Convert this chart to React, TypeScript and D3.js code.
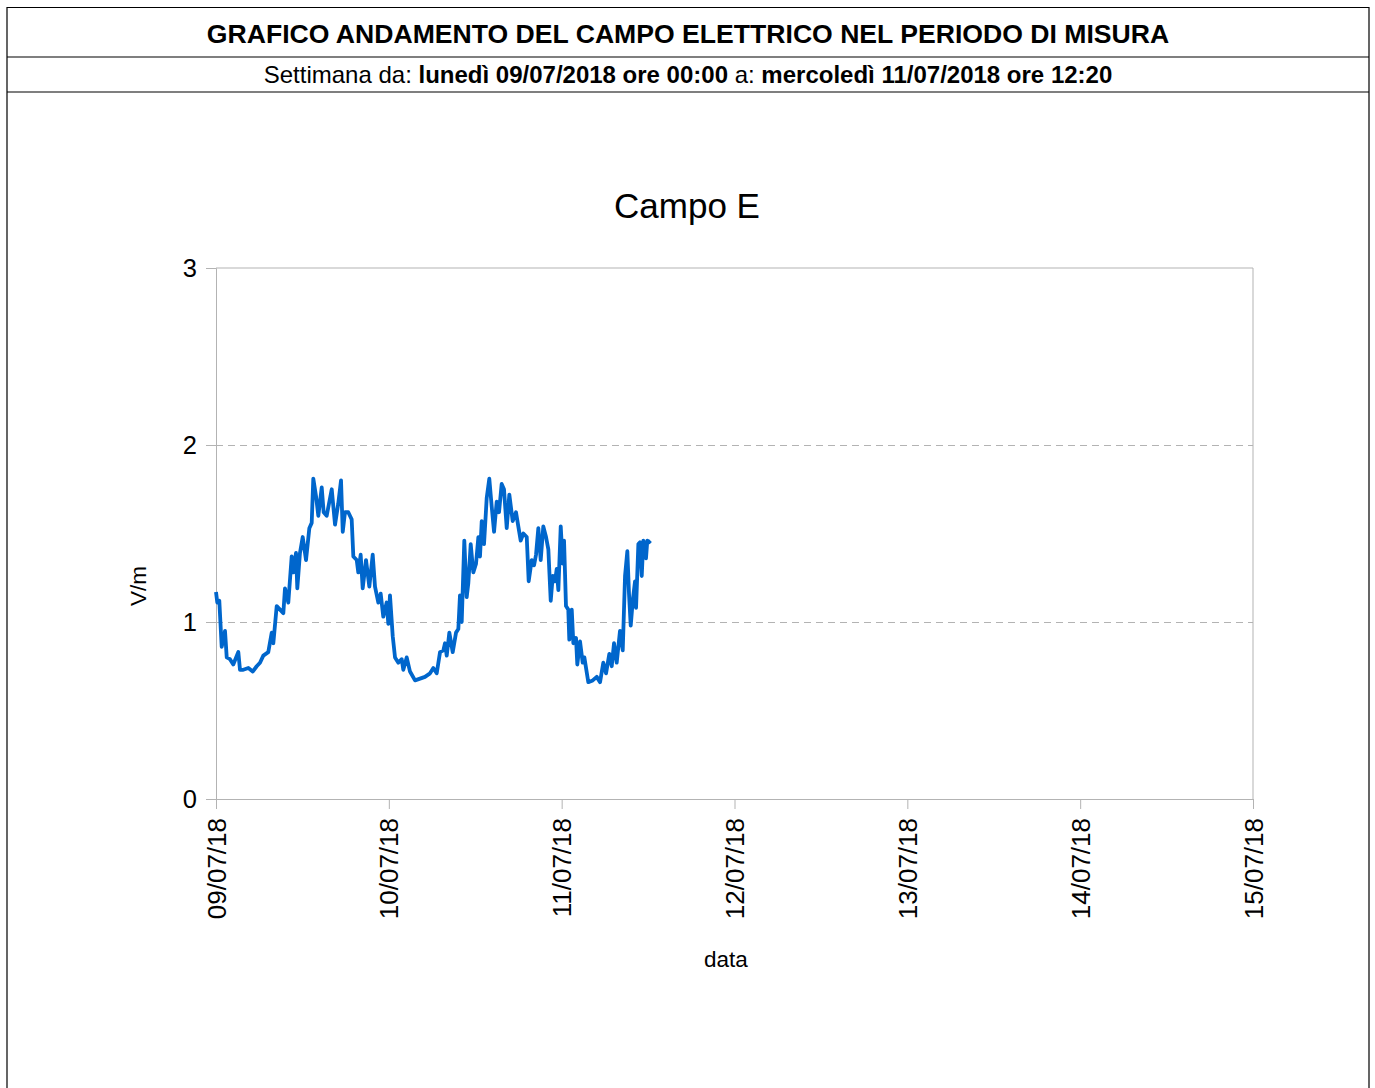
import { useEffect, useRef } from 'react'
import * as d3 from 'd3'

const W = 1375
const H = 1088
const PLOT = { left: 216, right: 1253, top: 268, bottom: 799 }
const FONT = '"Liberation Sans", Arial, sans-serif'
const LINE_COLOR = '#0066CC'
const GRID_COLOR = '#b3b3b3'

const START = new Date(2018, 6, 9, 0, 0)
const END = new Date(2018, 6, 15, 0, 0)

// hours since 09/07/2018 00:00
const HOURS = [
  0, 0.18, 0.46, 0.79, 1.25, 1.49, 1.94, 2.4, 3.1, 3.33, 3.79, 4.49, 5.1, 5.65, 6.11, 6.57,
  7.26, 7.74, 7.96, 8.43, 8.89, 9.35, 9.58, 10.04, 10.51, 10.73, 11.11, 11.29, 11.66, 12.04,
  12.5, 12.96, 13.29, 13.51, 13.89, 14.21, 14.68, 14.95, 15.37, 16.07, 16.53, 16.98, 17.36,
  17.6, 17.91, 18.37, 18.84, 19.07, 19.54, 19.76, 20.09, 20.37, 20.83, 21.29, 21.76, 22.08,
  22.54, 22.87, 23.23, 23.7, 23.93, 24.16, 24.54, 24.86, 25.32, 25.79, 26.01, 26.48, 26.94,
  27.64, 28.33, 29.02, 29.72, 30.18, 30.65, 31.11, 31.57, 31.8, 32.04, 32.4, 32.87, 33.33,
  33.65, 33.88, 34.12, 34.48, 34.81, 35.04, 35.37, 35.73, 36.11, 36.43, 36.66, 36.9, 37.22,
  37.59, 37.95, 38.29, 38.61, 38.98, 39.3, 39.67, 39.99, 40.37, 40.73, 41.2, 41.66, 41.98,
  42.31, 42.68, 43.15, 43.42, 43.84, 44.16, 44.44, 44.76, 45.09, 45.45, 45.83, 46.15, 46.48,
  46.76, 47.08, 47.31, 47.54, 47.87, 48.15, 48.33, 48.6, 48.92, 49.06, 49.4, 49.62, 49.99,
  50.17, 50.55, 50.92, 51.15, 51.7, 52.31, 52.87, 53.33, 53.78, 54.16, 54.62, 54.95, 55.27,
  55.64, 56.1, 56.48, 56.8, 57.12, 57.35, 57.59, 57.87, 58.19, 58.33, 58.65, 58.88, 59.12,
  59.34, 59.71, 59.89, 60.1, 60.33,
]

// Campo E, V/m
const VALUES = [
  1.17, 1.11, 1.12, 0.86, 0.95, 0.8, 0.79, 0.76, 0.83, 0.73, 0.73, 0.74, 0.72, 0.75, 0.77, 0.81,
  0.83, 0.94, 0.88, 1.09, 1.07, 1.05, 1.19, 1.11, 1.37, 1.28, 1.39, 1.19, 1.39, 1.48,
  1.35, 1.53, 1.56, 1.81, 1.71, 1.6, 1.76, 1.62, 1.6, 1.75, 1.55, 1.67, 1.8,
  1.51, 1.62, 1.62, 1.58, 1.37, 1.35, 1.28, 1.38, 1.19, 1.35, 1.2, 1.38, 1.2,
  1.11, 1.16, 1.03, 1.11, 0.99, 1.15, 0.92, 0.8, 0.77, 0.79, 0.73, 0.8, 0.72,
  0.67, 0.68, 0.69, 0.71, 0.74, 0.71, 0.83, 0.84, 0.88, 0.81, 0.94, 0.83, 0.94,
  0.96, 1.15, 1.0, 1.46, 1.14, 1.22, 1.44, 1.28, 1.33, 1.48, 1.37, 1.57, 1.44,
  1.7, 1.81, 1.65, 1.51, 1.68, 1.62, 1.78, 1.75, 1.53, 1.72, 1.57, 1.62, 1.54,
  1.46, 1.5, 1.48, 1.23, 1.35, 1.32, 1.38, 1.53, 1.35, 1.54, 1.48, 1.41, 1.12,
  1.26, 1.23, 1.3, 1.18, 1.54, 1.33, 1.46, 1.09, 1.07, 0.9, 1.07, 0.88, 0.91,
  0.76, 0.89, 0.77, 0.8, 0.66, 0.67, 0.69, 0.66, 0.77, 0.71, 0.82, 0.75, 0.88,
  0.77, 0.95, 0.84, 1.26, 1.4, 1.16, 0.98, 1.12, 1.23, 1.08, 1.44, 1.45, 1.26,
  1.46, 1.36, 1.46, 1.45, 1.46,
]

const Y_TICKS = [0, 1, 2, 3]
const DAY_TICKS = ['2018-07-09', '2018-07-10', '2018-07-11', '2018-07-12', '2018-07-13', '2018-07-14', '2018-07-15']

const HEADER = 'GRAFICO ANDAMENTO DEL CAMPO ELETTRICO NEL PERIODO DI MISURA'
const SUBTITLE = [
  { text: 'Settimana da: ', bold: false },
  { text: 'lunedì 09/07/2018 ore 00:00', bold: true },
  { text: ' a: ', bold: false },
  { text: 'mercoledì 11/07/2018 ore 12:20', bold: true },
]

export default function App() {
  const svgRef = useRef<SVGSVGElement>(null)

  useEffect(() => {
    const svg = d3.select(svgRef.current)
    svg.selectAll('*').remove()

    const x = d3.scaleTime([START, END], [PLOT.left, PLOT.right])
    const y = d3.scaleLinear([0, 3], [PLOT.bottom, PLOT.top])

    // ── Header boxes ────────────────────────────────────────────────────────
    const frame = svg.append('g').attr('stroke', '#000').attr('stroke-width', 1.2).attr('fill', 'none')
    frame.append('path').attr('d', `M7,${H + 5} V7.5 H1369 V${H + 5}`)
    frame.append('line').attr('x1', 7).attr('x2', 1369).attr('y1', 57).attr('y2', 57)
    frame.append('line').attr('x1', 7).attr('x2', 1369).attr('y1', 92).attr('y2', 92)

    svg.append('text')
      .attr('x', 688).attr('y', 43).attr('text-anchor', 'middle')
      .attr('font-family', FONT).attr('font-size', 26.6).attr('font-weight', 'bold')
      .text(HEADER)

    const sub = svg.append('text')
      .attr('x', 688).attr('y', 83).attr('text-anchor', 'middle')
      .attr('font-family', FONT).attr('font-size', 24)
    SUBTITLE.forEach(s => {
      sub.append('tspan').attr('font-weight', s.bold ? 'bold' : 'normal').text(s.text)
    })

    // ── Chart title ─────────────────────────────────────────────────────────
    svg.append('text')
      .attr('x', 687).attr('y', 218).attr('text-anchor', 'middle')
      .attr('font-family', FONT).attr('font-size', 35)
      .text('Campo E')

    // ── Grid + plot border ──────────────────────────────────────────────────
    const g = svg.append('g')
    g.append('g')
      .attr('transform', `translate(${PLOT.left},0)`)
      .call(d3.axisLeft(y).tickValues([1, 2]).tickSize(-(PLOT.right - PLOT.left)).tickFormat(() => ''))
      .call(ag => ag.select('.domain').remove())
      .call(ag => ag.selectAll('.tick line').attr('stroke', GRID_COLOR).attr('stroke-dasharray', '7,5'))

    g.append('line')
      .attr('x1', PLOT.left).attr('x2', PLOT.right).attr('y1', y(3)).attr('y2', y(3))
      .attr('stroke', GRID_COLOR)
    g.append('line')
      .attr('x1', PLOT.right).attr('x2', PLOT.right).attr('y1', PLOT.top).attr('y2', PLOT.bottom)
      .attr('stroke', GRID_COLOR)

    // ── Axes ────────────────────────────────────────────────────────────────
    g.append('g')
      .attr('transform', `translate(${PLOT.left},0)`)
      .call(d3.axisLeft(y).tickValues(Y_TICKS).tickSize(10).tickPadding(9).tickFormat(d3.format('d')))
      .call(ag => ag.select('.domain').attr('stroke', GRID_COLOR))
      .call(ag => ag.selectAll('.tick line').attr('stroke', GRID_COLOR))
      .call(ag => ag.selectAll('text').attr('fill', '#000').attr('font-size', 25.5).attr('font-family', FONT))

    const dayDates = DAY_TICKS.map(s => d3.timeParse('%Y-%m-%d')(s) as Date)
    g.append('g')
      .attr('transform', `translate(0,${PLOT.bottom})`)
      .call(d3.axisBottom(x).tickValues(dayDates).tickSize(10).tickFormat(d => d3.timeFormat('%d/%m/%y')(d as Date)))
      .call(ag => ag.select('.domain').attr('stroke', GRID_COLOR))
      .call(ag => ag.selectAll('.tick line').attr('stroke', GRID_COLOR))
      .call(ag => ag.selectAll('text')
        .attr('fill', '#000').attr('font-size', 26).attr('font-family', FONT)
        .attr('text-anchor', 'end')
        .attr('transform', 'rotate(-90)')
        .attr('x', -19).attr('y', 0).attr('dy', '0.35em'))

    g.append('text')
      .attr('x', 726).attr('y', 967).attr('text-anchor', 'middle')
      .attr('font-family', FONT).attr('font-size', 22.5)
      .text('data')

    g.append('text')
      .attr('transform', 'rotate(-90)')
      .attr('x', -586).attr('y', 146).attr('text-anchor', 'middle')
      .attr('font-family', FONT).attr('font-size', 22.5)
      .text('V/m')

    // ── Series ──────────────────────────────────────────────────────────────
    const data = HOURS.map((h, i) => ({ t: new Date(START.getTime() + h * 3600e3), v: VALUES[i] }))
    g.append('path')
      .datum(data)
      .attr('d', d3.line<{ t: Date; v: number }>().x(d => x(d.t)).y(d => y(d.v)))
      .attr('fill', 'none').attr('stroke', LINE_COLOR).attr('stroke-width', 3.8)
      .attr('stroke-linejoin', 'round')
  }, [])

  return (
    <svg
      ref={svgRef}
      width={W}
      height={H}
      style={{ position: 'absolute', left: 0, top: 0, background: '#fff', display: 'block' }}
    />
  )
}
